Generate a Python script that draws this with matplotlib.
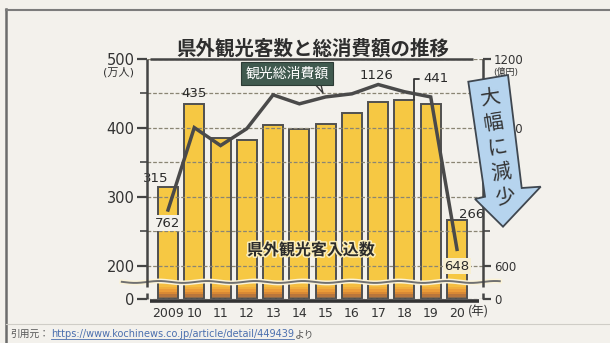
import numpy as np
import matplotlib
matplotlib.use('Agg')
import matplotlib.pyplot as plt
from matplotlib.patches import Polygon
from matplotlib.lines import Line2D
import matplotlib.patheffects as pe

# ---- data ----
years = ['2009', '10', '11', '12', '13', '14', '15', '16', '17', '18', '19', '20']
visitors = [315, 435, 385, 382, 405, 398, 406, 421, 437, 441, 435, 266]      # 万人
spending = [762, 1001, 949, 998, 1096, 1070, 1090, 1099, 1126, 1105, 1090, 648]  # 億円
left_ticks = [0, 200, 300, 400, 500]
left_minor = [250, 350, 450]
right_ticks = [0, 600, 800, 1000, 1200]
right_minor = [700, 900, 1100]
title = '県外観光客数と総消費額の推移'
line_name = '観光総消費額'
bar_name = '県外観光客入込数'
arrow_text = '大\n幅\nに\n減\n少'

plt.rcParams['font.family'] = ['DejaVu Sans', 'Noto Sans CJK JP']
JP = ['Noto Sans CJK JP', 'DejaVu Sans']

W, H = 610, 343
BG = '#f3f1ec'
fig = plt.figure(figsize=(W / 100, H / 100), dpi=100)
fig.patch.set_facecolor(BG)


def fx(x):
    return x / W


def fy(y):
    return 1 - y / H


L, R, T, B = 147, 483, 59, 299
ax = fig.add_axes([fx(L), fy(B), (R - L) / W, (B - T) / H])
ax.set_facecolor('none')

BRK = 48.0


def f_left(v):
    v = np.asarray(v, float)
    return np.where(v < 200, v * BRK / 200, BRK + (v - 200))


def i_left(u):
    u = np.asarray(u, float)
    return np.where(u < BRK, u * 200 / BRK, u - BRK + 200)


def f_right(v):
    v = np.asarray(v, float)
    return np.where(v < 600, v * BRK / 600, BRK + (v - 600) / 2)


def i_right(u):
    u = np.asarray(u, float)
    return np.where(u < BRK, u * 600 / BRK, (u - BRK) * 2 + 600)


ax.set_yscale('function', functions=(f_left, i_left))
ax.set_ylim(0, 500)
x = np.arange(len(years))
ax.set_xlim(-0.80, 11.99)

bw = 0.76
YEL = '#f6c843'
ax.bar(x, visitors, width=bw, color=YEL, linewidth=0, zorder=1)
# darker gradient at the bottom of each bar
grad_cols = ['#8a6a4c', '#b8763c', '#d98934', '#eb9c38', '#f1ae3d', '#f4bd41']
step = 15
for k, c in enumerate(grad_cols):
    ax.bar(x, [step] * len(x), bottom=k * step, width=bw, color=c, linewidth=0, zorder=1.2)
ax.bar(x, visitors, width=bw, fill=False, edgecolor='#505050', linewidth=1.4, zorder=2.2)

# grid
ax.set_yticks(left_ticks)
ax.set_yticks(left_minor, minor=True)
ax.set_yticklabels([str(v) for v in left_ticks])
ax.grid(True, which='both', axis='y', color='#8a8574', lw=0.9, ls=(0, (3, 1.5)))
ax.set_axisbelow(False)
ax.tick_params(axis='y', which='major', direction='out', length=7, width=1.6,
               color='#444444', labelsize=10.5, labelcolor='#333333', pad=2)
ax.tick_params(axis='y', which='minor', direction='out', length=5, width=1.3, color='#555555')
ax.set_xticks(x, years)
ax.tick_params(axis='x', length=0, labelsize=9, labelcolor='#333333', pad=6)
for s in ax.spines.values():
    s.set_visible(False)

ax2 = ax.twinx()
ax2.set_yscale('function', functions=(f_right, i_right))
ax2.set_ylim(0, 1200)
ax2.set_yticks(right_ticks)
ax2.set_yticks(right_minor, minor=True)
ax2.set_yticklabels([str(v) for v in right_ticks])
ax2.tick_params(axis='y', which='major', direction='out', length=6, width=1.6,
                color='#444444', labelsize=8.5, labelcolor='#333333', pad=2)
ax2.tick_params(axis='y', which='minor', direction='out', length=5, width=1.3, color='#555555')
for s in ax2.spines.values():
    s.set_visible(False)
ax2.plot(x, spending, color='#4a4a4a', lw=2.5, solid_joinstyle='miter', zorder=5)

# wavy break line
wx = np.linspace(-0.075, 1.05, 300)
wy = 0.071 + 0.004 * np.sin(wx * 2 * np.pi * 7)
ax.plot(wx, wy, transform=ax.transAxes, color='#fbf3d8', lw=3.5, clip_on=False, zorder=3)
ax.plot(wx, wy, transform=ax.transAxes, color='#707070', lw=1.4, clip_on=False, zorder=3.1)


# manual spines
def fline(x0, y0, x1, y1, **kw):
    fig.add_artist(Line2D([fx(x0), fx(x1)], [fy(y0), fy(y1)], transform=fig.transFigure, **kw))


SP = dict(color='#444444', lw=1.8, solid_capstyle='butt')
fline(150, 59, 473, 59, **SP)
fline(L, 59, L, 287, **SP)
fline(L, 293, L, B, **SP)
fline(R, 59, R, 287, **SP)
fline(R, 293, R, B, **SP)
fline(150, 300.5, 479, 300.5, color='#333333', lw=2.6, solid_capstyle='butt')

# frame
fline(6, 9, 6, 343, color='#6c6c6c', lw=1.8)
fline(6, 10, 610, 10, color='#7c7c7c', lw=1.5)
fline(6, 324, 610, 324, color='#cfcdc7', lw=0.8)

# unit labels
fig.text(fx(118), fy(72), '(万人)', fontsize=8, color='#333333', ha='center', va='center')
fig.text(fx(506), fy(72), '(億円)', fontsize=6.5, color='#333333', ha='center', va='center')
fig.text(fx(468), fy(312), '(年)', fontsize=9, color='#333333', ha='left', va='center', family=JP)

# title
fig.text(fx(313), fy(49), title, fontsize=14, fontweight='bold', color='#2e2e2e',
         ha='center', va='center', family=JP)

# value labels
VL = dict(fontsize=9.5, color='#2a2a2a', ha='center', va='center')
ax.annotate(str(visitors[0]), (x[0], visitors[0]), xytext=(-8.6, 5.8), textcoords='offset points', **VL)
ax.annotate(str(visitors[1]), (x[1], visitors[1]), xytext=(0, 7.2), textcoords='offset points', **VL)
ax.annotate(str(visitors[11]), (x[11], visitors[11]), xytext=(10.8, 4.3), textcoords='offset points', **VL)
ax.annotate(str(visitors[9]), (x[9] + bw / 2, visitors[9]), xytext=(6.5, 15.1), textcoords='offset points',
            fontsize=9.5, color='#2a2a2a', ha='left', va='center', zorder=6,
            arrowprops=dict(arrowstyle='-', color='#333333', lw=1.3, shrinkA=1, shrinkB=0, relpos=(0, 0.5),
                            connectionstyle='angle,angleA=0,angleB=90,rad=0'))
ax2.annotate(str(spending[0]), (x[0], spending[0]), xytext=(0, -9.4), textcoords='offset points',
             bbox=dict(boxstyle='square,pad=0.1', fc=BG, ec='none'), zorder=6, **VL)
ax2.annotate(str(spending[8]), (x[8], spending[8]), xytext=(-1, 6.8), textcoords='offset points', zorder=6, **VL)
ax2.annotate(str(spending[11]), (x[11], spending[11]), xytext=(0, -12), textcoords='offset points',
             bbox=dict(boxstyle='square,pad=0.1', fc='#f7efd2', ec='none'), zorder=6, **VL)

# series names
fig.text(fx(287), fy(73.5), line_name, fontsize=10, color='white', ha='center', va='center', family=JP,
         bbox=dict(boxstyle='square,pad=0.3', fc='#405a4f', ec='#2c3b35', lw=0.8), zorder=7)
fig.add_artist(Line2D([fx(312), fx(323), fx(320)], [fy(81), fy(93), fy(81)],
                      transform=fig.transFigure, color='#3a3a3a', lw=1.0, zorder=7))
fig.text(fx(311), fy(250), bar_name, fontsize=11.5, fontweight='bold', color='#2b2b2b',
         ha='center', va='center', family=JP, zorder=8,
         path_effects=[pe.withStroke(linewidth=2.2, foreground='#fbeebb')])

# arrow callout
arrow_pts = [(468.3, 81.7), (508, 75), (521.7, 188), (540.7, 186.7), (503, 226.7), (475, 199), (485, 196.7)]
fig.add_artist(Polygon([(fx(a), fy(b)) for a, b in arrow_pts], closed=True, transform=fig.transFigure,
                       fc='#b6d4ee', ec='#3f4750', lw=1.3, zorder=9))
fig.text(fx(497.5), fy(148), arrow_text, fontsize=14.5, color='#333333', ha='center', va='center',
         family=JP, rotation=9, linespacing=1.25, zorder=10)

# footer
FY = 334
t1 = fig.text(fx(10), fy(FY), '引用元：', fontsize=7, color='#555555', ha='left', va='center', family=JP)
fig.canvas.draw()
r = fig.canvas.get_renderer()
e1 = t1.get_window_extent(r)
t2 = fig.text(e1.x1 / W + 0.004, fy(FY), 'https://www.kochinews.co.jp/article/detail/449439', fontsize=7,
              color='#4b6fae', ha='left', va='center')
fig.canvas.draw()
e2 = t2.get_window_extent(r)
fig.add_artist(Line2D([e2.x0 / W, e2.x1 / W], [e2.y0 / H, e2.y0 / H], transform=fig.transFigure,
                      color='#4b6fae', lw=0.6))
fig.text(e2.x1 / W, fy(FY), 'より', fontsize=7, color='#555555', ha='left', va='center', family=JP)

fig.savefig('out.png', dpi=100, facecolor=BG)
